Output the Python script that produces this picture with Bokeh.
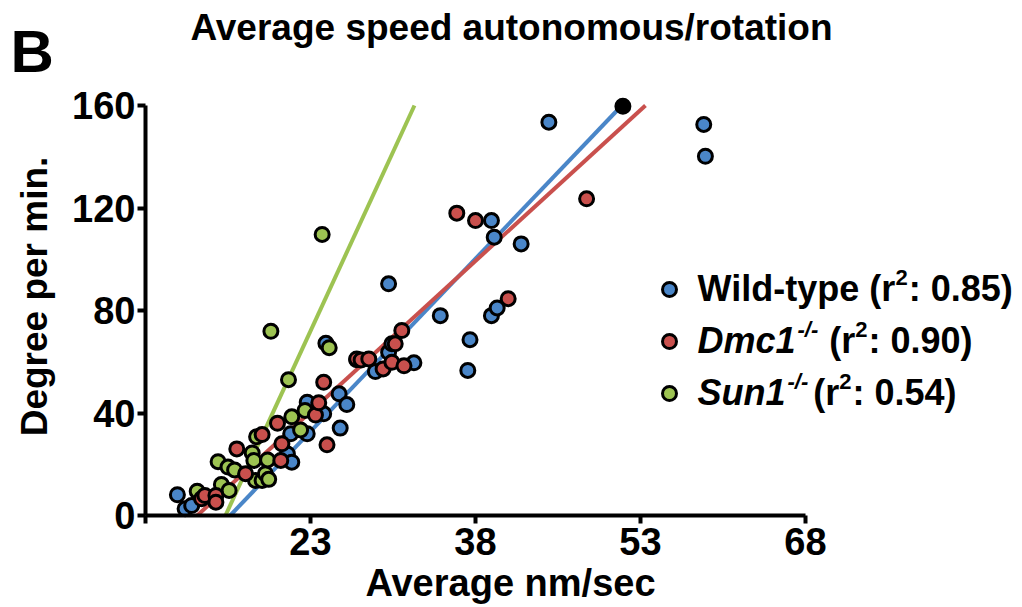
from bokeh.plotting import figure
from bokeh.models import Range1d, FixedTicker, Label
from bokeh.embed import file_html
from bokeh.resources import INLINE
import math

# ---------------- data ----------------
wt_x = [10.9, 11.6, 12.2, 20.9, 21.3, 21.2, 22.7, 22.7, 24.2, 25.6, 26.3, 25.7, 24.4, 27.2, 28.9,
        30.1, 30.4, 32.4, 30.1, 34.8, 37.5, 37.3, 39.45, 39.97, 39.45, 39.7, 42.15, 44.67, 58.75, 58.9]
wt_y = [8.1, 2.6, 3.9, 24.0, 20.8, 31.9, 31.9, 44.2, 39.7, 47.5, 43.3, 34.1, 67.2, 60.8, 56.2,
        63.7, 67.0, 59.6, 90.4, 78.0, 68.6, 56.6, 78.0, 81.0, 115.1, 108.6, 106.0, 153.5, 152.6, 140.2]

dmc_x = [13.1, 13.4, 14.4, 14.4, 16.3, 17.1, 18.6, 20.0, 20.4, 20.3, 23.45, 23.75, 24.2, 24.5,
         27.2, 27.6, 28.3, 29.6, 30.4, 31.5, 30.7, 31.3, 36.3, 38.0, 40.97, 48.1]
dmc_y = [6.5, 7.8, 7.8, 5.2, 26.0, 16.3, 31.6, 36.0, 28.0, 21.5, 39.2, 44.0, 52.0, 27.6,
         61.1, 60.7, 61.1, 57.2, 59.8, 58.4, 67.0, 72.2, 118.0, 115.1, 84.6, 123.6]

sun_x = [12.7, 14.6, 14.9, 15.5, 15.6, 16.1, 17.7, 17.85, 18.0, 18.1, 18.6, 18.9, 19.1, 19.2,
         19.4, 21.0, 21.3, 22.1, 22.5, 24.06, 24.7]
sun_y = [9.5, 21.0, 12.1, 18.9, 9.8, 17.8, 24.4, 21.5, 13.7, 30.7, 13.7, 16.3, 21.7, 14.1,
         71.9, 53.0, 38.5, 33.4, 41.0, 109.7, 65.5]

dark_x = [51.4]
dark_y = [159.7]

wt_fit_x = [15.7, 51.3]
wt_fit_y = [0, 160]
dmc_fit_x = [12.7, 53.45]
dmc_fit_y = [0, 160]
sun_fit_x = [15.27, 32.45]
sun_fit_y = [0, 160]

x_ticks = [8, 23, 38, 53, 68]
y_ticks = [0, 40, 80, 120, 160]

BLUE = "#4A86C8"
RED = "#C9504D"
GREEN = "#9DC352"
FONT = "Liberation Sans"

# ---------------- layout: the frame covers the whole canvas ----------------
CW, CH = 1020, 605
AX_PX, AY_PX = 145, 515          # pixel position of the axes corner (x=8, y=0)
PPX, PPY = 11.0, 2.5625          # pixels per data unit
X_MIN, Y_MIN = 8, 0
x_start = X_MIN - AX_PX / PPX
x_end = x_start + CW / PPX
y_end = Y_MIN + AY_PX / PPY
y_start = y_end - CH / PPY

p = figure(frame_width=CW, frame_height=CH, min_border=0,
           x_range=Range1d(x_start, x_end), y_range=Range1d(y_start, y_end),
           output_backend="svg", toolbar_location=None)
p.grid.visible = False
p.outline_line_color = None
p.background_fill_color = "white"
p.border_fill_color = "white"

for ax in (p.xaxis[0], p.yaxis[0]):
    ax.axis_line_width = 4
    ax.axis_line_color = "black"
    ax.major_tick_line_width = 4
    ax.major_tick_out = 8
    ax.major_tick_in = 0
    ax.minor_tick_line_color = None
    ax.major_label_text_font = FONT
    ax.major_label_text_font_style = "bold"
    ax.major_label_text_font_size = "38px"
    ax.major_label_text_color = "black"

p.xaxis.ticker = FixedTicker(ticks=x_ticks)
p.xaxis.major_label_overrides = {8: ""}
p.xaxis.major_label_standoff = 4
p.xaxis.bounds = (x_ticks[0], x_ticks[-1])
p.xaxis.fixed_location = Y_MIN
p.yaxis.ticker = FixedTicker(ticks=y_ticks)
p.yaxis.bounds = (y_ticks[0], y_ticks[-1])
p.yaxis.major_label_standoff = 2
p.yaxis.fixed_location = X_MIN

# regression lines
p.line(wt_fit_x, wt_fit_y, line_color=BLUE, line_width=4)
p.line(dmc_fit_x, dmc_fit_y, line_color=RED, line_width=4)
p.line(sun_fit_x, sun_fit_y, line_color=GREEN, line_width=4)

# points
MS = 14
p.scatter(wt_x, wt_y, size=MS, fill_color=BLUE, line_color="black", line_width=3)
p.scatter(sun_x, sun_y, size=MS, fill_color=GREEN, line_color="black", line_width=3)
p.scatter(dmc_x, dmc_y, size=MS, fill_color=RED, line_color="black", line_width=3)
p.scatter(dark_x, dark_y, size=MS, fill_color="black", line_color="black", line_width=3)

# ---------------- texts (canvas pixels, Y = vertical centre of the text, from top) ----------------
def lab(text, X, Y, size, style="bold", align="left", angle=0.0):
    p.add_layout(Label(text=text, x=X, y=CH - Y, x_units="screen", y_units="screen",
                       text_font=FONT, text_font_size=f"{size}px", text_font_style=style,
                       text_align=align, text_baseline="middle", angle=angle,
                       text_color="black"))

lab("Average speed autonomous/rotation", 511, 27, 37, align="center")
lab("B", 10, 51, 60)
lab("Average nm/sec", 510, 582, 38, align="center")
lab("Degree per min.", 34, 296, 37, align="center", angle=math.pi / 2)

# legend ----------------------------------------------------------
W = {' ': 278, '(': 333, ')': 333, ':': 333, '.': 278, '-': 333, '/': 278,
     '0': 556, '1': 556, '2': 556, '3': 556, '4': 556, '5': 556, '6': 556, '7': 556, '8': 556, '9': 556,
     'W': 944, 'i': 278, 'l': 278, 'd': 611, 't': 333, 'y': 556, 'p': 611, 'e': 556, 'r': 389,
     'D': 722, 'm': 889, 'c': 556, 'S': 667, 'u': 611, 'n': 611}

def tw(s, size):
    return sum(W.get(ch, 556) for ch in s) * size / 1000.0

# (text, style, size, rise, gap after)
legend_rows = [
    (BLUE, [("Wild-type (r", "bold", 36, 0, 0), ("2", "bold", 22, 11, 1), (": 0.85)", "bold", 36, 0, 0)]),
    (RED, [("Dmc1", "bold italic", 36, 0, 2), ("-/-", "bold italic", 22, 11, 11), ("(r", "bold", 36, 0, 0),
           ("2", "bold", 22, 11, 1), (": 0.90)", "bold", 36, 0, 0)]),
    (GREEN, [("Sun1", "bold italic", 36, 0, 2), ("-/-", "bold italic", 22, 11, 5), ("(r", "bold", 36, 0, 0),
             ("2", "bold", 22, 11, 1), (": 0.54)", "bold", 36, 0, 0)]),
]
leg_text_x = 697
leg_marker_x = 669
leg_mid_y = [288, 340, 392]
for (color, pieces), my_px in zip(legend_rows, leg_mid_y):
    mx = X_MIN + (leg_marker_x - AX_PX) / PPX
    my = Y_MIN + (AY_PX - (my_px + 1)) / PPY
    p.scatter([mx], [my], size=14, fill_color=color, line_color="black", line_width=3)
    cx = leg_text_x
    for txt, style, size, rise, extra in pieces:
        lab(txt, cx, my_px - rise, size, style=style)
        cx += tw(txt, size) + extra

open("out.html", "w").write(file_html(p, INLINE))
